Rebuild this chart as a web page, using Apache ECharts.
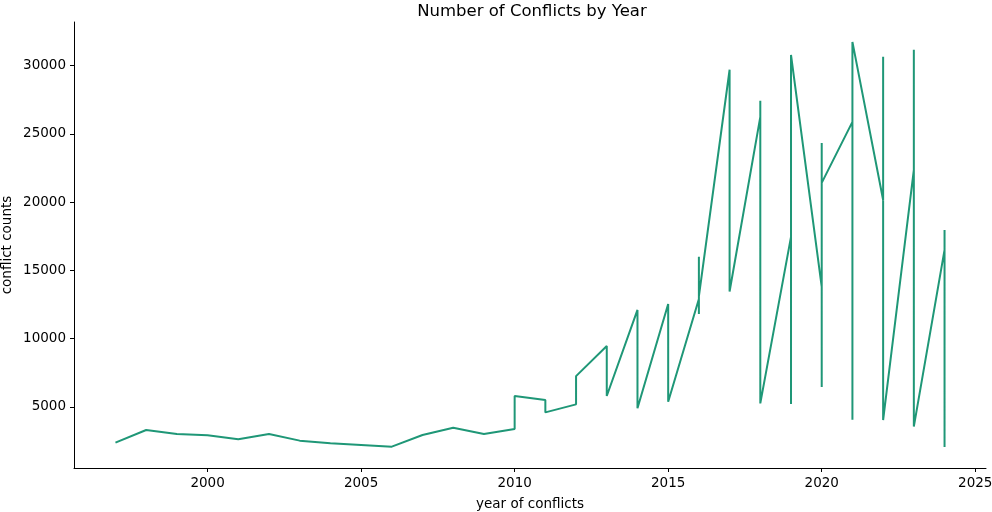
<!DOCTYPE html>
<html>
<head>
<meta charset="utf-8">
<script src="https://cdn.jsdelivr.net/npm/echarts@6/dist/echarts.min.js"></script>
<style>
  html, body { margin: 0; padding: 0; background: #fff; }
  #chart { width: 992px; height: 512px; }
</style>
</head>
<body>
<div id="chart"></div>
<script>
/* rows in the order they were plotted (unsorted, several rows per year) */
const years = [
  1997, 1998, 1999, 2000, 2001, 2002, 2003, 2004, 2005, 2006, 2007, 2008, 2009,
  2010, 2010,
  2011, 2011,
  2012, 2012,
  2013, 2013,
  2014, 2014,
  2015, 2015,
  2016, 2016, 2016, 2016,
  2017, 2017,
  2018, 2018, 2018, 2018,
  2019, 2019, 2019,
  2020, 2020, 2020, 2020,
  2021, 2021, 2021,
  2022, 2022, 2022,
  2023, 2023, 2023,
  2024, 2024, 2024, 2024
];
const counts = [
  2370, 3300, 3000, 2910, 2620, 3000, 2520, 2320, 2200, 2080, 2930, 3470, 3000,
  3370, 5790,
  5490, 4590,
  5180, 7250,
  9450, 5790,
  12100, 4890,
  12530, 5370,
  12900, 16000, 11800, 13100,
  29700, 13450,
  26250, 27420, 15900, 5250,
  17450, 5200, 30790,
  13780, 6450, 24340, 21410,
  25880, 4050, 31740,
  20160, 30650, 4030,
  22360, 31160, 3550,
  16500, 17960, 14300, 2050
];
const xTicks = [2000, 2005, 2010, 2015, 2020, 2025];
const yTicks = [5000, 10000, 15000, 20000, 25000, 30000];

const chart = echarts.init(document.getElementById('chart'));
const font = 'DejaVu Sans';

chart.setOption({
  animation: false,
  title: {
    text: 'Number of Conflicts by Year',
    left: 527,
    top: -2,
    textAlign: 'center',
    textStyle: { fontFamily: font, fontSize: 16.5, fontWeight: 'normal', color: '#000' }
  },
  grid: { left: 74, right: 6, top: 22, bottom: 44, containLabel: false, outerBoundsMode: 'none' },
  xAxis: {
    type: 'value',
    min: 1995.65,
    max: 2025.35,
    name: 'year of conflicts',
    nameLocation: 'middle',
    nameGap: 29,
    nameMoveOverlap: false,
    nameTextStyle: { fontFamily: font, fontSize: 13.5, color: '#000' },
    splitLine: { show: false },
    axisLine: { lineStyle: { color: '#000', width: 1 } },
    axisTick: { customValues: xTicks, length: 4, lineStyle: { color: '#000' } },
    axisLabel: {
      customValues: xTicks,
      formatter: v => String(v),
      fontFamily: font, fontSize: 13.5, color: '#000', margin: 8
    }
  },
  yAxis: {
    type: 'value',
    min: 515,
    max: 33200,
    name: 'conflict counts',
    nameLocation: 'middle',
    nameGap: 60,
    nameMoveOverlap: false,
    nameTextStyle: { fontFamily: font, fontSize: 13.5, color: '#000' },
    splitLine: { show: false },
    axisLine: { show: true, lineStyle: { color: '#000', width: 1 } },
    axisTick: { show: true, customValues: yTicks, length: 4, lineStyle: { color: '#000' } },
    axisLabel: {
      customValues: yTicks,
      formatter: v => String(v),
      fontFamily: font, fontSize: 13.5, color: '#000', margin: 8
    }
  },
  series: [{
    type: 'line',
    data: years.map((y, i) => [y, counts[i]]),
    showSymbol: false,
    lineStyle: { color: '#1f9777', width: 2 },
    itemStyle: { color: '#1f9777' }
  }]
});
</script>
</body>
</html>
